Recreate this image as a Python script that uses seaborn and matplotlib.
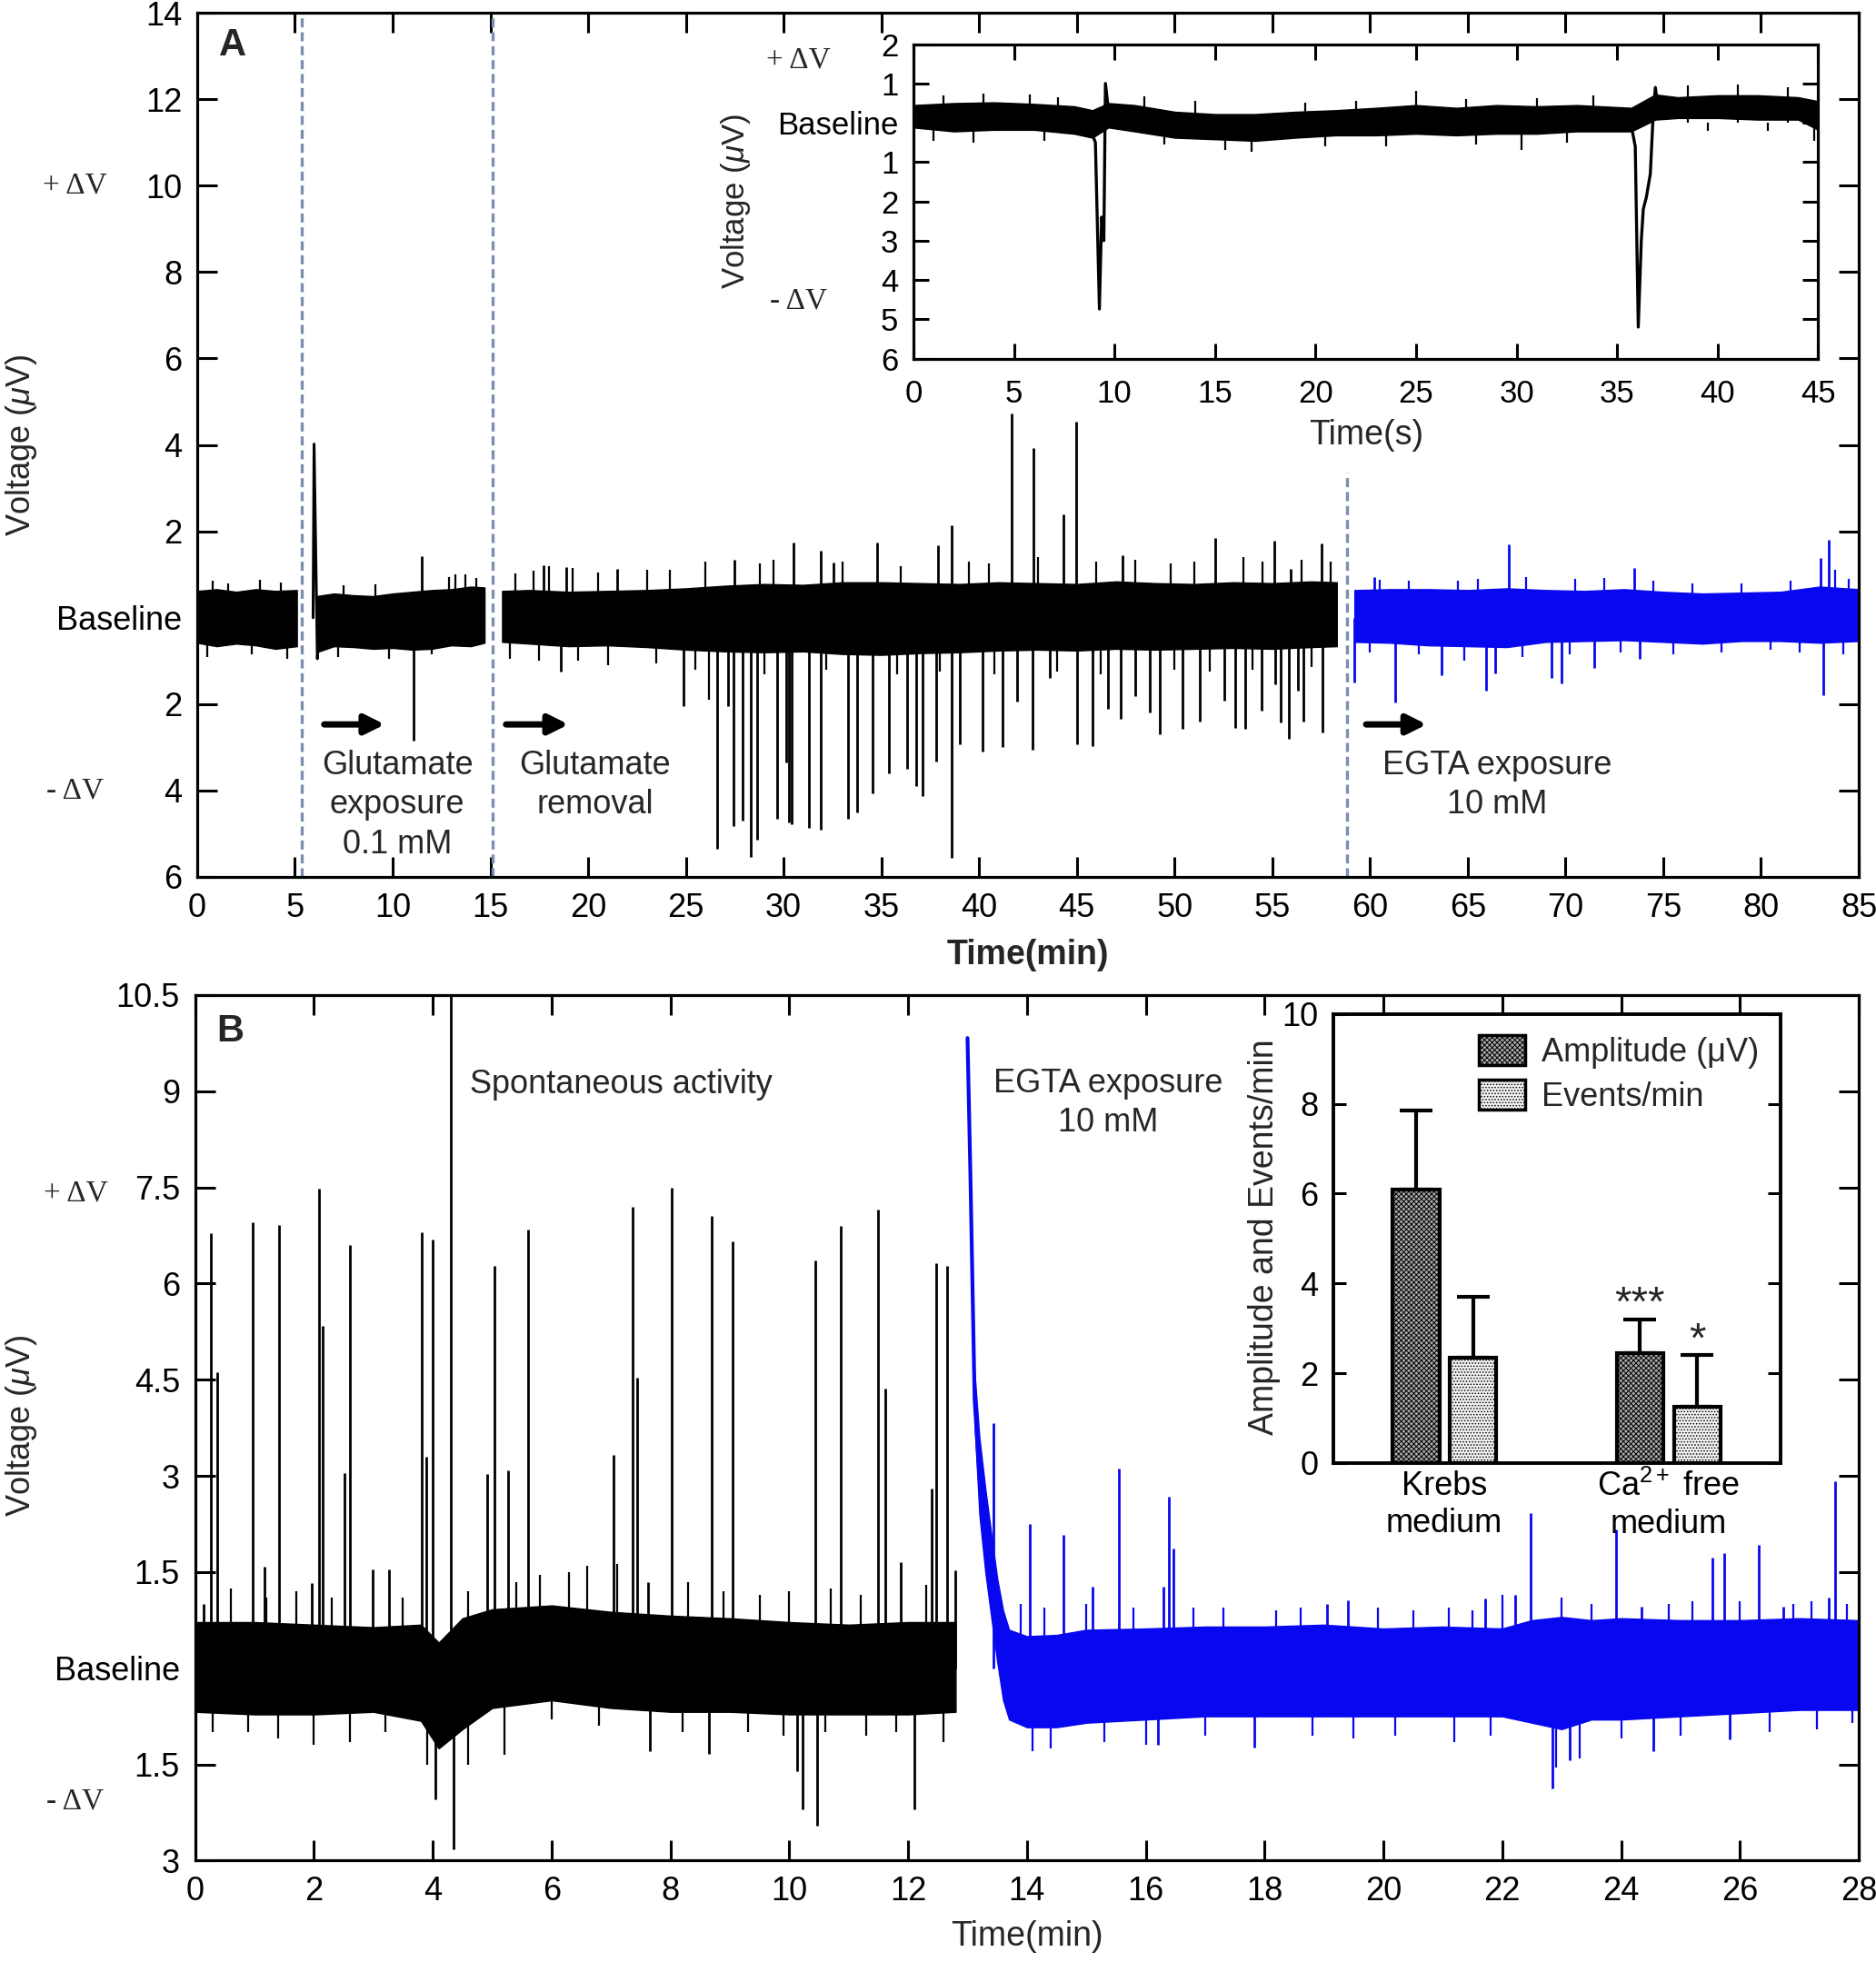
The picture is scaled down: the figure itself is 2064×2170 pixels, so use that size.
import matplotlib
matplotlib.use("Agg")
import matplotlib.pyplot as plt
import seaborn as sns
import pandas as pd
from matplotlib.patches import Patch
from matplotlib.transforms import blended_transform_factory

# ---------------- panel A: long recording (min, uV) ----------------
# noise envelope of each trace segment
a1_t = [0.0, 1.0, 2.0, 3.0, 4.0, 5.1]
a1_up = [0.62, 0.66, 0.60, 0.66, 0.62, 0.64]
a1_lo = [-0.58, -0.66, -0.60, -0.64, -0.72, -0.66]
a2_t = [6.1, 7.0, 8.0, 9.0, 10.0, 11.0, 12.0, 13.0, 14.0, 14.7]
a2_up = [0.50, 0.56, 0.52, 0.50, 0.56, 0.60, 0.64, 0.66, 0.72, 0.70]
a2_lo = [-0.80, -0.66, -0.68, -0.72, -0.70, -0.74, -0.72, -0.64, -0.66, -0.58]
a3_t = [15.6, 17, 19, 21, 23, 25, 27, 29, 31, 33, 35, 37, 39, 41, 43, 45, 47, 49, 51, 53, 55, 57, 58.3]
a3_up = [0.62, 0.64, 0.60, 0.62, 0.64, 0.68, 0.74, 0.78, 0.76, 0.82, 0.82, 0.80,
         0.78, 0.82, 0.80, 0.78, 0.84, 0.80, 0.78, 0.82, 0.80, 0.84, 0.82]
a3_lo = [-0.56, -0.60, -0.66, -0.64, -0.68, -0.74, -0.78, -0.80, -0.78, -0.84, -0.86, -0.82,
         -0.80, -0.76, -0.74, -0.76, -0.72, -0.74, -0.72, -0.70, -0.72, -0.68, -0.66]
a4_t = [59.2, 61, 63, 65, 67, 69, 71, 73, 75, 77, 79, 81, 83, 85]
a4_up = [0.64, 0.66, 0.66, 0.64, 0.68, 0.64, 0.62, 0.66, 0.60, 0.56, 0.58, 0.60, 0.72, 0.66]
a4_lo = [-0.56, -0.58, -0.64, -0.66, -0.68, -0.56, -0.54, -0.52, -0.56, -0.60, -0.54, -0.54, -0.58, -0.54]

# glutamate application artefact
glu_t = [5.93, 5.98, 6.15, 6.22]
glu_v = [0.0, 4.02, -0.95, -0.4]

# events (time, peak)
a_pos_t = [11.5, 17.7, 18.9, 21.5, 27.5, 30.5, 31.9, 32.55, 34.8, 37.9, 38.58, 41.66,
           42.76, 44.3, 44.95, 47.36, 52.1, 55.1, 55.95, 57.52]
a_pos_v = [1.42, 1.21, 1.17, 1.12, 1.35, 1.73, 1.56, 1.28, 1.73, 1.67, 2.15, 4.72,
           3.93, 2.39, 4.54, 1.44, 1.84, 1.78, 1.13, 1.71]
a_neg_t = [11.07, 18.6, 24.9, 26.62, 27.15, 27.45, 27.9, 28.34, 28.64, 29.68, 30.12, 30.27,
           30.4, 31.3, 31.9, 33.3, 33.74, 34.57, 35.4, 36.3, 36.78, 37.1, 37.82, 38.58,
           39.0, 40.19, 41.2, 41.93, 42.75, 43.63, 45.0, 45.78, 46.57, 47.26, 47.99, 48.71,
           49.25, 50.42, 51.3, 52.54, 53.1, 53.6, 54.43, 55.16, 55.44, 55.85, 56.29, 56.61, 57.56]
a_neg_v = [-2.85, -1.25, -2.04, -5.35, -2.04, -4.82, -4.7, -5.54, -5.14, -4.66, -3.36, -4.73,
           -4.77, -4.87, -4.91, -4.66, -4.5, -4.07, -3.6, -3.5, -3.9, -4.12, -3.32, -5.55,
           -2.93, -3.09, -3.0, -1.94, -3.05, -1.4, -2.92, -2.98, -2.1, -2.33, -1.82, -2.19,
           -2.69, -2.58, -2.41, -1.92, -2.56, -2.58, -2.15, -1.55, -2.42, -2.81, -1.68, -2.4, -2.66]
# small excursions at the edge of the noise band
a_fup_t = [0.8, 1.6, 3.2, 4.3, 7.5, 9.1, 12.9, 13.2, 13.7, 14.3, 16.3, 17.2, 18.0, 19.2,
           20.5, 23.0, 24.2, 26.0, 28.8, 29.5, 33.0, 36.0, 39.5, 40.5, 43.0, 46.0, 48.0,
           49.8, 51.0, 53.5, 54.5, 56.5, 58.0]
a_fup_v = [0.85, 0.8, 0.88, 0.82, 0.75, 0.78, 0.95, 1.0, 1.0, 0.92, 1.02, 1.08, 1.2, 1.15,
           1.05, 1.1, 1.1, 1.3, 1.25, 1.35, 1.3, 1.2, 1.3, 1.25, 1.4, 1.3, 1.35, 1.25, 1.3,
           1.4, 1.3, 1.35, 1.3]
a_fdn_t = [0.5, 2.8, 4.6, 7.2, 9.8, 12.0, 16.0, 17.5, 19.5, 21.0, 23.5, 25.5, 26.2, 29.0,
           32.2, 35.8, 38.0, 40.8, 44.0, 46.2, 50.0, 51.8, 54.0, 57.0]
a_fdn_v = [-0.9, -0.85, -0.95, -0.9, -0.95, -0.85, -0.95, -1.0, -1.0, -1.1, -1.05, -1.2,
           -1.9, -1.3, -1.2, -1.3, -1.25, -1.3, -1.25, -1.3, -1.2, -1.25, -1.2, -1.15]
egta_a_pos_t = [60.2, 67.12, 73.5, 83.04, 83.45]
egta_a_pos_v = [0.95, 1.7, 1.16, 1.39, 1.8]
egta_a_neg_t = [59.2, 61.28, 63.65, 65.92, 66.4, 69.3, 69.78, 71.45, 73.8, 83.2]
egta_a_neg_v = [-1.49, -1.97, -1.33, -1.68, -1.28, -1.4, -1.53, -1.16, -0.95, -1.8]
egta_a_fup_t = [60.5, 62.0, 64.5, 65.5, 68.0, 70.5, 72.0, 74.5, 76.5, 79.0, 81.5, 83.8, 84.5]
egta_a_fup_v = [0.88, 0.85, 0.85, 0.9, 0.95, 0.9, 0.92, 0.85, 0.8, 0.8, 0.85, 1.1, 0.9]
egta_a_fdn_t = [60.0, 62.5, 64.8, 67.8, 70.2, 72.8, 75.5, 78.0, 80.5, 82.0, 84.2]
egta_a_fdn_v = [-0.8, -0.85, -1.0, -0.9, -0.85, -0.8, -0.85, -0.8, -0.75, -0.8, -0.85]

a_marks = [5.35, 15.1, 58.8]

# ---------------- inset A: seconds ----------------
ia_t = [0, 2, 4, 6, 8, 8.9, 9.7, 11, 13, 15, 17, 19, 21, 23, 25, 27, 29, 31, 33,
        35.7, 36.9, 38, 40, 42, 44, 45]
ia_up = [0.45, 0.5, 0.52, 0.48, 0.42, 0.32, 0.5, 0.45, 0.28, 0.22, 0.22, 0.28, 0.32, 0.38,
         0.45, 0.38, 0.45, 0.42, 0.45, 0.38, 0.72, 0.65, 0.7, 0.7, 0.65, 0.55]
ia_lo = [-0.12, -0.22, -0.18, -0.18, -0.28, -0.38, -0.12, -0.22, -0.38, -0.42, -0.46, -0.38,
         -0.32, -0.32, -0.28, -0.32, -0.28, -0.28, -0.22, -0.22, 0.08, 0.12, 0.12, 0.08, 0.08, -0.18]
dip1_t = [8.9, 9.05, 9.25, 9.36, 9.47, 9.55, 9.7]
dip1_v = [-0.3, -0.5, -4.74, -2.4, -3.0, 1.0, 0.3]
dip2_t = [35.75, 35.9, 36.05, 36.2, 36.3, 36.45, 36.65, 36.8, 36.9, 37.05]
dip2_v = [-0.2, -0.6, -5.2, -3.0, -2.2, -1.9, -1.3, 0.3, 0.9, 0.3]
ia_spk_t = [1.5, 3.5, 5.8, 7.2, 11.5, 14.0, 19.5, 22.0, 25.0, 27.5, 31.0, 33.8, 38.5, 41.0,
            43.5, 1.0, 3.0, 6.5, 12.5, 15.5, 16.8, 20.5, 23.5, 28.0, 30.25, 32.5, 39.5, 42.5, 44.8]
ia_spk_v = [0.7, 0.75, 0.72, 0.65, 0.68, 0.55, 0.5, 0.55, 0.82, 0.6, 0.62, 0.7, 0.95, 0.98,
            0.9, -0.45, -0.5, -0.45, -0.55, -0.7, -0.73, -0.6, -0.6, -0.55, -0.69, -0.5,
            -0.2, -0.2, -0.45]

# ---------------- panel B: min ----------------
b_t = [0, 1, 2, 3, 3.8, 4.1, 4.5, 5, 6, 7, 8, 9, 10, 11, 12, 12.8]
b_up = [0.72, 0.72, 0.68, 0.64, 0.68, 0.4, 0.78, 0.92, 0.98, 0.88, 0.82, 0.78, 0.72, 0.68, 0.72, 0.72]
b_lo = [-0.68, -0.72, -0.72, -0.68, -0.82, -1.25, -0.95, -0.62, -0.5, -0.62, -0.68, -0.68,
        -0.72, -0.72, -0.72, -0.68]
b_pos_t = [0.15, 0.27, 0.38, 0.97, 1.17, 1.41, 1.96, 2.08, 2.14, 2.52, 2.61, 2.99, 3.27,
           3.82, 3.89, 4.0, 4.30, 4.92, 5.04, 5.26, 5.6, 7.04, 7.37, 7.44, 7.62, 8.02,
           8.7, 9.05, 10.44, 10.87, 11.49, 11.62, 11.87, 12.4, 12.47, 12.66, 12.8]
b_pos_v = [1.0, 6.79, 4.62, 6.96, 1.58, 6.92, 1.33, 7.48, 5.34, 3.05, 6.6, 1.54, 1.54,
           6.8, 3.3, 6.69, 11.0, 3.03, 6.28, 3.09, 6.84, 3.33, 7.19, 4.53, 1.35, 7.5,
           7.06, 6.66, 6.36, 6.9, 7.16, 4.36, 1.66, 2.8, 6.32, 6.27, 1.53]
b_neg_t = [4.05, 4.35, 7.65, 8.65, 10.13, 10.22, 10.47, 12.1]
b_neg_v = [-2.04, -2.83, -1.3, -1.34, -1.6, -2.2, -2.46, -2.2]
b_fup_t = [0.6, 1.2, 1.7, 2.3, 3.5, 4.6, 5.4, 5.8, 6.3, 6.6, 7.1, 8.3, 8.9, 9.5, 10.0,
           10.7, 11.2, 12.3]
b_fup_v = [1.25, 1.1, 1.2, 1.1, 1.1, 1.2, 1.35, 1.45, 1.5, 1.6, 1.62, 1.35, 1.2, 1.15,
           1.2, 1.25, 1.15, 1.3]
b_fdn_t = [0.3, 0.9, 1.4, 2.0, 2.6, 3.2, 3.9, 4.6, 5.2, 6.0, 6.8, 8.2, 9.3, 9.9, 10.6,
           11.3, 11.8, 12.6]
b_fdn_v = [-1.0, -1.0, -1.1, -1.2, -1.15, -1.0, -1.5, -1.5, -1.35, -0.8, -0.9, -1.0, -1.0,
           -1.05, -1.0, -1.05, -1.0, -1.15]

decay_t = [13.0, 13.05, 13.12, 13.2, 13.3]
decay_v = [9.83, 7.64, 4.19, 3.0, 2.1]
bb_t = [13.12, 13.2, 13.3, 13.4, 13.5, 13.6, 13.7, 14.0, 14.5, 15, 16, 17, 18, 19, 20,
        21, 22, 22.5, 23, 23.5, 24, 25, 26, 27, 28]
bb_up = [4.6, 3.6, 2.8, 2.1, 1.4, 0.9, 0.6, 0.5, 0.52, 0.6, 0.62, 0.65, 0.65, 0.68, 0.62,
         0.65, 0.62, 0.75, 0.8, 0.75, 0.78, 0.75, 0.75, 0.78, 0.75]
bb_lo = [3.8, 2.4, 1.5, 0.8, 0.1, -0.5, -0.8, -0.92, -0.92, -0.85, -0.8, -0.75, -0.75,
         -0.75, -0.75, -0.75, -0.75, -0.85, -0.95, -0.8, -0.8, -0.75, -0.7, -0.65, -0.65]
egta_b_pos_t = [13.43, 14.05, 14.62, 15.1, 15.55, 16.3, 16.39, 16.47, 19.05, 19.41, 21.72,
                22.21, 22.48, 23.92, 24.34, 25.53, 25.73, 26.32, 26.73, 27.5, 27.6]
egta_b_pos_v = [3.82, 2.25, 2.08, 1.27, 3.12, 1.27, 2.67, 1.87, 1.0, 1.06, 1.09, 1.15,
                2.42, 2.16, 0.96, 1.73, 1.79, 1.92, 0.96, 1.1, 2.92]
egta_b_neg_t = [16.21, 17.82, 22.84, 23.14, 24.55, 25.82]
egta_b_neg_v = [-1.19, -1.24, -1.87, -1.43, -1.3, -1.11]
egta_b_fup_t = [13.9, 14.3, 15.0, 15.8, 16.8, 17.3, 18.2, 18.6, 19.9, 20.5, 21.1, 21.5,
                22.0, 23.0, 23.5, 24.8, 25.2, 26.0, 26.9, 27.2, 27.8]
egta_b_fup_v = [1.0, 0.95, 1.0, 0.95, 0.95, 0.95, 0.9, 0.95, 0.95, 0.9, 0.95, 0.9, 1.15,
                1.1, 1.0, 1.0, 1.05, 1.05, 1.0, 1.05, 1.0]
egta_b_fdn_t = [14.1, 14.4, 15.3, 16.0, 17.0, 18.8, 19.5, 20.2, 21.2, 21.8, 22.9, 23.3,
                24.0, 25.0, 26.5, 27.3, 27.9]
egta_b_fdn_v = [-1.3, -1.25, -1.15, -1.2, -1.05, -1.05, -1.1, -1.05, -1.15, -1.05, -1.55,
                -1.4, -1.1, -1.05, -1.0, -0.95, -0.85]

# ---------------- inset B: bar summary ----------------
bar_groups = ['Krebs\nmedium', 'Ca$^{2+}$ free\nmedium']
amp_mean = [6.1, 2.45]
amp_err = [1.75, 0.75]
evt_mean = [2.35, 1.25]
evt_err = [1.35, 1.15]
stars = ['', '***'], ['', '*']

# ---------------- styling ----------------
sns.set_style("ticks")
plt.rcParams['font.family'] = ['Liberation Sans', 'DejaVu Sans']
plt.rcParams['mathtext.fontset'] = 'custom'
plt.rcParams['mathtext.rm'] = 'Liberation Sans'
plt.rcParams['mathtext.it'] = 'Liberation Sans:italic'
plt.rcParams['hatch.linewidth'] = 0.7

BLACK = 'black'
BLUE = '#0808f0'
DASH = '#7b8fae'
FS = 26


def style_axes(ax, fs=FS, right=True, top=True):
    ax.tick_params(direction='in', length=16, width=2.2, top=top, right=right,
                   labelsize=fs, pad=12, colors='black')
    for s in ax.spines.values():
        s.set_visible(True)
        s.set_linewidth(2.3)
        s.set_color('black')


def band(ax, t, up, lo, color):
    ax.fill_between(t, lo, up, color=color, lw=1.0, edgecolor=color)


def spikes(ax, t, v, color, lw=2.0):
    ax.vlines(t, 0, v, color=color, lw=lw)


def delta_labels(ax, x, y_plus, y_minus, fs=24):
    tr = blended_transform_factory(ax.transAxes, ax.transData)
    ax.text(x, y_plus, '+ ΔV', transform=tr, ha='center', va='center',
            fontsize=fs, family='Liberation Serif')
    ax.text(x, y_minus, '- ΔV', transform=tr, ha='center', va='center',
            fontsize=fs, family='Liberation Serif')


fig = plt.figure(figsize=(20.64, 21.70), dpi=100)
axA = fig.add_axes([0.1051, 0.5553, 0.8857, 0.4382])
axAi = fig.add_axes([0.4869, 0.8182, 0.4823, 0.1594])
axB = fig.add_axes([0.1040, 0.0565, 0.8868, 0.4389])
axBi = fig.add_axes([0.7109, 0.2581, 0.2381, 0.2277])

# ---- panel A ----
for t, up, lo in [(a1_t, a1_up, a1_lo), (a2_t, a2_up, a2_lo), (a3_t, a3_up, a3_lo)]:
    band(axA, t, up, lo, BLACK)
band(axA, a4_t, a4_up, a4_lo, BLUE)
sns.lineplot(x=glu_t, y=glu_v, ax=axA, color=BLACK, lw=2.2, sort=False, estimator=None)
spikes(axA, a_fup_t, a_fup_v, BLACK, lw=1.6)
spikes(axA, a_fdn_t, a_fdn_v, BLACK, lw=1.6)
spikes(axA, a_pos_t, a_pos_v, BLACK)
spikes(axA, a_neg_t, a_neg_v, BLACK)
spikes(axA, egta_a_fup_t, egta_a_fup_v, BLUE, lw=1.6)
spikes(axA, egta_a_fdn_t, egta_a_fdn_v, BLUE, lw=1.6)
spikes(axA, egta_a_pos_t, egta_a_pos_v, BLUE)
spikes(axA, egta_a_neg_t, egta_a_neg_v, BLUE)
axA.vlines(a_marks[:2], -6, 14, color=DASH, lw=2.4, linestyles=[(0, (3, 1.6))])
axA.vlines(a_marks[2], -6, 3.35, color=DASH, lw=2.4, linestyles=[(0, (3, 1.6))])

for x0, x1 in [(6.5, 9.6), (15.8, 19.0), (59.8, 62.9)]:
    axA.annotate('', xy=(x1, -2.47), xytext=(x0, -2.47),
                 arrowprops=dict(arrowstyle='-|>', lw=5, color='black', mutation_scale=32,
                                 shrinkA=0, shrinkB=0))
axA.text(10.24, -3.05, 'Glutamate\nexposure\n0.1 mM', ha='center', va='top', fontsize=FS,
         linespacing=1.32)
axA.text(20.35, -3.05, 'Glutamate\nremoval', ha='center', va='top', fontsize=FS,
         linespacing=1.32)
axA.text(66.5, -3.05, 'EGTA exposure\n10 mM', ha='center', va='top', fontsize=FS,
         linespacing=1.32)
axA.text(1.8, 13.25, 'A', ha='center', va='center', fontsize=30, fontweight='bold')

axA.set_xlim(0, 85)
axA.set_ylim(-6, 14)
axA.set_xticks(range(0, 86, 5))
a_yt = [14, 12, 10, 8, 6, 4, 2, 0, -2, -4, -6]
axA.set_yticks(a_yt)
axA.set_yticklabels(['Baseline' if v == 0 else str(abs(v)) for v in a_yt])
style_axes(axA)
axA.set_xlabel('Time(min)', fontsize=27, fontweight='bold', labelpad=12)
axA.set_ylabel(r'Voltage ($\mu$V)', fontsize=26)
axA.yaxis.set_label_coords(-0.095, 0.5)
delta_labels(axA, -0.0735, 10, -4)

# ---- inset A ----
band(axAi, ia_t, ia_up, ia_lo, BLACK)
spikes(axAi, ia_spk_t, ia_spk_v, BLACK, lw=1.6)
sns.lineplot(x=dip1_t, y=dip1_v, ax=axAi, color=BLACK, lw=2.4, sort=False, estimator=None)
sns.lineplot(x=dip2_t, y=dip2_v, ax=axAi, color=BLACK, lw=2.4, sort=False, estimator=None)
axAi.set_xlim(0, 45)
axAi.set_ylim(-6, 2)
axAi.set_xticks(range(0, 46, 5))
ia_yt = [2, 1, 0, -1, -2, -3, -4, -5, -6]
axAi.set_yticks(ia_yt)
axAi.set_yticklabels(['Baseline' if v == 0 else str(abs(v)) for v in ia_yt])
style_axes(axAi, fs=25)
axAi.tick_params(length=12)
axAi.tick_params(axis='x', pad=16)
axAi.set_xlabel('Time(s)', fontsize=27, labelpad=8)
axAi.set_ylabel(r'Voltage ($\mu$V)', fontsize=25)
axAi.yaxis.set_label_coords(-0.178, 0.5)
delta_labels(axAi, -0.127, 1.6, -4.54)

# ---- panel B ----
band(axB, b_t, b_up, b_lo, BLACK)
spikes(axB, b_fup_t, b_fup_v, BLACK, lw=1.6)
spikes(axB, b_fdn_t, b_fdn_v, BLACK, lw=1.6)
spikes(axB, b_pos_t, b_pos_v, BLACK)
spikes(axB, b_neg_t, b_neg_v, BLACK)
band(axB, bb_t, bb_up, bb_lo, BLUE)
sns.lineplot(x=decay_t, y=decay_v, ax=axB, color=BLUE, lw=3, sort=False, estimator=None)
spikes(axB, egta_b_fup_t, egta_b_fup_v, BLUE, lw=1.6)
spikes(axB, egta_b_fdn_t, egta_b_fdn_v, BLUE, lw=1.6)
spikes(axB, egta_b_pos_t, egta_b_pos_v, BLUE)
spikes(axB, egta_b_neg_t, egta_b_neg_v, BLUE)
axB.text(0.59, 9.93, 'B', ha='center', va='center', fontsize=30, fontweight='bold')
axB.text(4.62, 9.11, 'Spontaneous activity', ha='left', va='center', fontsize=FS)
axB.text(15.36, 9.37, 'EGTA exposure\n10 mM', ha='center', va='top', fontsize=FS,
         linespacing=1.3)
axB.set_xlim(0, 28)
axB.set_ylim(-3, 10.5)
axB.set_xticks(range(0, 29, 2))
b_yt = [10.5, 9, 7.5, 6, 4.5, 3, 1.5, 0, -1.5, -3]
axB.set_yticks(b_yt)
axB.set_yticklabels(['Baseline' if v == 0 else f'{abs(v):g}' for v in b_yt])
style_axes(axB)
axB.set_xlabel('Time(min)', fontsize=27, labelpad=10)
axB.set_ylabel(r'Voltage ($\mu$V)', fontsize=26)
axB.yaxis.set_label_coords(-0.094, 0.503)
delta_labels(axB, -0.0719, 7.4, -2.07)

# ---- inset B ----
bars = pd.DataFrame({
    'group': bar_groups * 2,
    'measure': ['Amplitude'] * 2 + ['Events'] * 2,
    'value': amp_mean + evt_mean,
    'err': amp_err + evt_err,
})
sns.barplot(data=bars, x='group', y='value', hue='measure', ax=axBi, width=0.51, gap=0.18,
            errorbar=None, legend=False, palette=['#a9a9a9', '#f2f2f2'],
            edgecolor='black', linewidth=3)
hatches = ['xxxxxx', '.....']
errs = [amp_err, evt_err]
for cont, hatch, err, st in zip(axBi.containers, hatches, errs, stars):
    for p, e, s in zip(cont, err, st):
        p.set_hatch(hatch)
        xc = p.get_x() + p.get_width() / 2
        h = p.get_height()
        axBi.errorbar([xc], [h], yerr=[[0], [e]], fmt='none', ecolor='black',
                      elinewidth=3, capsize=13, capthick=3, zorder=1)
        if s:
            axBi.text(xc, h + e - 0.12, s, ha='center', va='bottom', fontsize=34)
axBi.set_xlim(-0.494, 1.498)
axBi.set_ylim(0, 10)
axBi.set_yticks(range(0, 11, 2))
style_axes(axBi, right=True, top=False)
axBi.tick_params(axis='x', length=0, pad=6)
axBi.tick_params(axis='y', length=10)
for s in axBi.spines.values():
    s.set_linewidth(2.8)
axBi.set_xlabel('')
axBi.set_ylabel('Amplitude and Events/min', fontsize=27)
axBi.yaxis.set_label_coords(-0.118, 0.504)
handles = [Patch(facecolor='#a9a9a9', edgecolor='black', hatch='xxxxxx', lw=2.5,
                 label='Amplitude (μV)'),
           Patch(facecolor='#f2f2f2', edgecolor='black', hatch='.....', lw=2.5,
                 label='Events/min')]
axBi.legend(handles=handles, loc='upper right', frameon=False, fontsize=FS,
            handlelength=1.4, handleheight=1.0, borderaxespad=0.25, labelspacing=0.35,
            handletextpad=0.5)

fig.savefig('out.png', dpi=100)
